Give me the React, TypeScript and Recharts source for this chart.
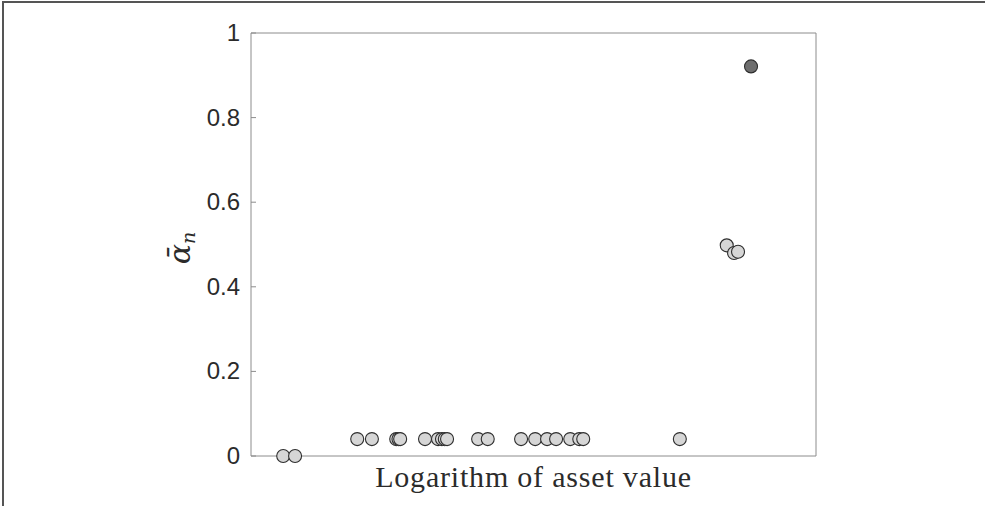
import React from 'react';
import { ScatterChart, Scatter, XAxis, YAxis } from 'recharts';

// log asset value vs. mean alpha
const logAssetValue = [
  14.57, 14.78, 15.88, 16.14, 16.57, 16.61, 16.64, 17.08, 17.31, 17.38, 17.43, 17.47,
  18.02, 18.19, 18.78, 19.03, 19.24, 19.4, 19.65, 19.81, 19.88, 21.59, 22.42, 22.55, 22.62,
];
const alphaBar = [
  0, 0, 0.04, 0.04, 0.04, 0.04, 0.04, 0.04, 0.04, 0.04, 0.04, 0.04,
  0.04, 0.04, 0.04, 0.04, 0.04, 0.04, 0.04, 0.04, 0.04, 0.04, 0.498, 0.48, 0.483,
];
const topLogAssetValue = [22.85];
const topAlphaBar = [0.921];

const yTicks = [0, 0.2, 0.4, 0.6, 0.8, 1];

const others = logAssetValue.map((x, i) => ({ x, y: alphaBar[i] }));
const top = topLogAssetValue.map((x, i) => ({ x, y: topAlphaBar[i] }));

const AXIS = '#8c8c8c';
const TXT = '#2b2b2b';

const dot = (fill: string) => (props: any) => (
  <circle cx={props.cx} cy={props.cy} r={6.5} fill={fill} stroke="#2e2e2e" strokeWidth={1.1} />
);

// MATLAB style: ticks point into the box
const LeftTick = (props: any) => {
  const { x, y, payload } = props;
  return (
    <g>
      <line x1={x + 11} x2={x + 16} y1={y} y2={y} stroke={AXIS} />
      <text
        x={x}
        y={y}
        dy={8}
        textAnchor="end"
        fill={TXT}
        fontSize={24}
        fontFamily="'Liberation Sans', Arial, sans-serif"
      >
        {payload.value}
      </text>
    </g>
  );
};

const RightTick = (props: any) => {
  const { x, y } = props;
  return <line x1={x} x2={x - 5} y1={y} y2={y} stroke={AXIS} />;
};

const YLabel = () => (
  <text
    transform="translate(190, 248) rotate(-90)"
    textAnchor="middle"
    fill={TXT}
    fontFamily="'DejaVu Serif', serif"
    fontStyle="italic"
  >
    <tspan fontSize={30}>{'\u03B1\u0304'}</tspan>
    <tspan fontSize={19} dy={5}>n</tspan>
  </text>
);

export default function App() {
  return (
    <div style={{ position: 'absolute', left: 0, top: 0, width: 985, height: 506, background: '#fff' }}>
      <div
        style={{
          position: 'absolute',
          left: 2,
          top: 1,
          right: 0,
          bottom: 0,
          borderTop: '2px solid #555',
          borderLeft: '2px solid #555',
        }}
      />
      <ScatterChart
        width={985}
        height={506}
        margin={{ top: 32, right: 168, left: 0, bottom: 0 }}
        style={{ position: 'absolute', left: 0, top: 0 }}
      >
        <XAxis
          xAxisId="b"
          dataKey="x"
          type="number"
          domain={[14, 24]}
          orientation="bottom"
          height={50}
          stroke={AXIS}
          tick={false}
          tickLine={false}
          label={{
            value: 'Logarithm of asset value',
            position: 'insideBottom',
            offset: 19,
            fill: TXT,
            fontSize: 30,
            letterSpacing: 0.8,
            fontFamily: "'Liberation Serif', serif",
          }}
        />
        <XAxis
          xAxisId="t"
          dataKey="x"
          type="number"
          domain={[14, 24]}
          orientation="top"
          height={1}
          stroke={AXIS}
          tick={false}
          tickLine={false}
        />
        <YAxis
          yAxisId="l"
          dataKey="y"
          type="number"
          domain={[0, 1]}
          ticks={yTicks}
          width={251}
          stroke={AXIS}
          tickSize={0}
          tickMargin={11}
          tickLine={false}
          tick={<LeftTick />}
          label={<YLabel />}
        />
        <YAxis
          yAxisId="r"
          orientation="right"
          dataKey="y"
          type="number"
          domain={[0, 1]}
          ticks={yTicks}
          width={1}
          stroke={AXIS}
          tickSize={0}
          tickMargin={0}
          tickLine={false}
          tick={<RightTick />}
        />
        <Scatter
          data={others}
          xAxisId="b"
          yAxisId="l"
          shape={dot('#d6d6d6')}
          isAnimationActive={false}
        />
        <Scatter
          data={top}
          xAxisId="b"
          yAxisId="l"
          shape={dot('#6e6e6e')}
          isAnimationActive={false}
        />
      </ScatterChart>
    </div>
  );
}
